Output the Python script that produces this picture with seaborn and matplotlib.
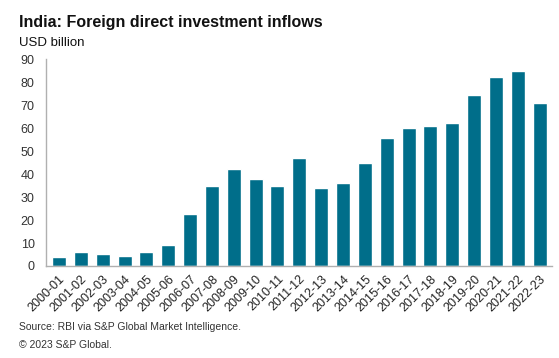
import pandas as pd
import matplotlib.pyplot as plt
import seaborn as sns

# Fiscal years and FDI inflows (USD billion)
years = ['2000-01', '2001-02', '2002-03', '2003-04', '2004-05', '2005-06',
         '2006-07', '2007-08', '2008-09', '2009-10', '2010-11', '2011-12',
         '2012-13', '2013-14', '2014-15', '2015-16', '2016-17', '2017-18',
         '2018-19', '2019-20', '2020-21', '2021-22', '2022-23']
fdi = [4.0, 6.1, 5.0, 4.3, 6.0, 9.0, 22.8, 35.0, 42.0, 37.9, 35.0, 47.0,
       34.0, 36.0, 44.9, 55.8, 60.0, 61.0, 62.0, 74.3, 82.0, 85.0, 71.0]

df = pd.DataFrame({'Year': years, 'FDI': fdi})

sns.set_style('white')
plt.rcParams['font.family'] = ['Liberation Sans', 'DejaVu Sans']

fig = plt.figure(figsize=(5.59, 3.58), dpi=100)
ax = fig.add_axes([0.082, 0.257, 0.905, 0.578])

sns.barplot(data=df, x='Year', y='FDI', color='#006E8A', saturation=1,
            width=0.64, ax=ax)

ax.set_ylim(0, 90)
ax.set_yticks(range(0, 91, 10))
ax.set_xlim(-0.6, len(years) - 0.45)
ax.set_xlabel('')
ax.set_ylabel('')
ax.tick_params(axis='y', labelsize=9, colors='#333333', length=0, pad=8)
ax.tick_params(axis='x', labelsize=9, colors='#222222', length=0, pad=5)
plt.setp(ax.get_xticklabels(), rotation=45, ha='right', rotation_mode='anchor')

for side in ['top', 'right']:
    ax.spines[side].set_visible(False)
for side in ['left', 'bottom']:
    ax.spines[side].set_color('#b0b0b0')
    ax.spines[side].set_linewidth(1.0)

fig.text(0.034, 0.925, 'India: Foreign direct investment inflows',
         fontsize=11.5, fontweight='bold', color='#111111')
fig.text(0.034, 0.872, 'USD billion', fontsize=9.5, color='#111111')
fig.text(0.034, 0.078, 'Source: RBI via S&P Global Market Intelligence.',
         fontsize=7.5, color='#333333')
fig.text(0.034, 0.028, '\u00a9 2023 S&P Global.', fontsize=7.5, color='#333333')

fig.savefig('out.png', dpi=100)
